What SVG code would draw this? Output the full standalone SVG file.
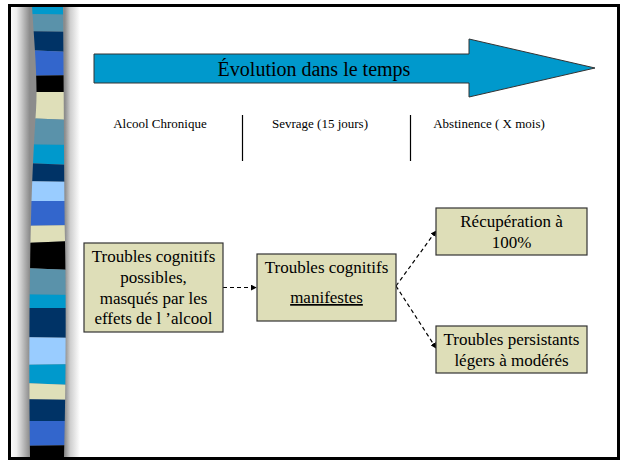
<svg xmlns="http://www.w3.org/2000/svg" width="627" height="461" viewBox="0 0 627 461">
<defs>
<style>
text{font-family:'Liberation Serif','DejaVu Serif',serif;fill:#000;}
.box{fill:#dedeb8;stroke:#333;stroke-width:1.2;}
.con{fill:none;stroke:#000;stroke-width:1.2;stroke-dasharray:4 3;}
</style>
<linearGradient id="sh" x1="11" y1="0" x2="80" y2="0" gradientUnits="userSpaceOnUse">
<stop offset="0" stop-color="#fafafa"/>
<stop offset="0.08" stop-color="#eeeeee"/>
<stop offset="0.27" stop-color="#8c8c8c"/>
<stop offset="0.78" stop-color="#8c8c8c"/>
<stop offset="0.86" stop-color="#cfcfcf"/>
<stop offset="1" stop-color="#ffffff"/>
</linearGradient>
<clipPath id="sc"><path d="M32,6 C34,40 38,80 36,110 C34,140 32,180 31,220 C29,300 29,380 30,458 L64,458 C66,380 66,300 65,240 C64,180 64,100 63,6 Z"/></clipPath>
<marker id="ah" viewBox="0 0 8 8" refX="7" refY="4" markerWidth="6" markerHeight="6" orient="auto" markerUnits="userSpaceOnUse"><path d="M0,0 L8,4 L0,8 Z" fill="#000"/></marker>
</defs>
<rect x="0" y="0" width="627" height="461" fill="#fff"/>
<g id="sidebar">
<rect x="11" y="6" width="69" height="452" fill="url(#sh)"/>
<g clip-path="url(#sc)">
<polygon points="20,6 75,6 75,15 20,14" fill="#0099cc"/>
<polygon points="20,14 75,15 75,32 20,31" fill="#5a92aa"/>
<polygon points="20,31 75,32 75,52 20,50" fill="#003366"/>
<polygon points="20,50 75,52 75,75 20,76" fill="#3366cc"/>
<polygon points="20,76 75,75 75,92 20,92" fill="#000"/>
<polygon points="20,92 75,92 75,120 20,118" fill="#dfdfb9"/>
<polygon points="20,118 75,120 75,145 20,144" fill="#5a92aa"/>
<polygon points="20,144 75,145 75,165 20,163" fill="#0099cc"/>
<polygon points="20,163 75,165 75,182 20,181" fill="#003366"/>
<polygon points="20,181 75,182 75,201 20,201" fill="#99ccff"/>
<polygon points="20,201 75,201 75,225 20,226" fill="#3366cc"/>
<polygon points="20,226 75,225 75,241 20,243" fill="#dfdfb9"/>
<polygon points="20,243 75,241 75,270 20,268" fill="#000"/>
<polygon points="20,268 75,270 75,295 20,294" fill="#5a92aa"/>
<polygon points="20,294 75,295 75,308 20,308" fill="#0099cc"/>
<polygon points="20,308 75,308 75,338 20,337" fill="#003366"/>
<polygon points="20,337 75,338 75,364 20,365" fill="#99ccff"/>
<polygon points="20,365 75,364 75,385 20,383" fill="#0099cc"/>
<polygon points="20,383 75,385 75,400 20,399" fill="#dfdfb9"/>
<polygon points="20,399 75,400 75,421 20,421" fill="#003366"/>
<polygon points="20,421 75,421 75,445 20,446" fill="#3366cc"/>
<polygon points="20,446 75,445 75,458 20,458" fill="#000"/>
</g>
</g>
<rect x="9.5" y="5.5" width="609" height="453" fill="none" stroke="#000" stroke-width="3"/>
<g id="timeline">
<polygon points="94,54 469,54 469,39 595,68 469,97 469,83 94,83" fill="#0099cc" stroke="#333" stroke-width="1"/>
<text x="314" y="76" font-size="20" text-anchor="middle">Évolution dans le temps</text>
</g>
<g id="phases">
<text x="160" y="128" font-size="13" text-anchor="middle">Alcool Chronique</text>
<line x1="242.5" y1="115" x2="242.5" y2="161" stroke="#000" stroke-width="1.2"/>
<text x="320" y="128" font-size="13" text-anchor="middle">Sevrage (15 jours)</text>
<line x1="410.5" y1="115" x2="410.5" y2="161" stroke="#000" stroke-width="1.2"/>
<text x="489" y="128" font-size="13" text-anchor="middle">Abstinence ( X mois)</text>
</g>
<g id="connectors">
<line class="con" x1="223" y1="287.5" x2="256" y2="287.5" marker-end="url(#ah)"/>
<line class="con" x1="396" y1="286" x2="436" y2="231" marker-end="url(#ah)"/>
<line class="con" x1="396" y1="286" x2="436" y2="348" marker-end="url(#ah)"/>
</g>
<g id="n1">
<rect class="box" x="84" y="243" width="139" height="89"/>
<text font-size="17" text-anchor="middle"><tspan x="153.5" y="262">Troubles cognitifs</tspan><tspan x="153.5" y="283">possibles,</tspan><tspan x="153.5" y="304">masqués par les</tspan><tspan x="153.5" y="324">effets de l ’alcool</tspan></text>
</g>
<g id="n2">
<rect class="box" x="257" y="254" width="139" height="67"/>
<text font-size="17" text-anchor="middle"><tspan x="326.5" y="273">Troubles cognitifs</tspan><tspan x="326.5" y="303" text-decoration="underline">manifestes</tspan></text>
</g>
<g id="n3">
<rect class="box" x="436" y="208" width="151" height="47"/>
<text font-size="17" text-anchor="middle"><tspan x="511.5" y="227">Récupération à</tspan><tspan x="511.5" y="248">100%</tspan></text>
</g>
<g id="n4">
<rect class="box" x="436" y="326" width="151" height="47"/>
<text font-size="17" text-anchor="middle"><tspan x="511.5" y="345">Troubles persistants</tspan><tspan x="511.5" y="366">légers à modérés</tspan></text>
</g>
</svg>
